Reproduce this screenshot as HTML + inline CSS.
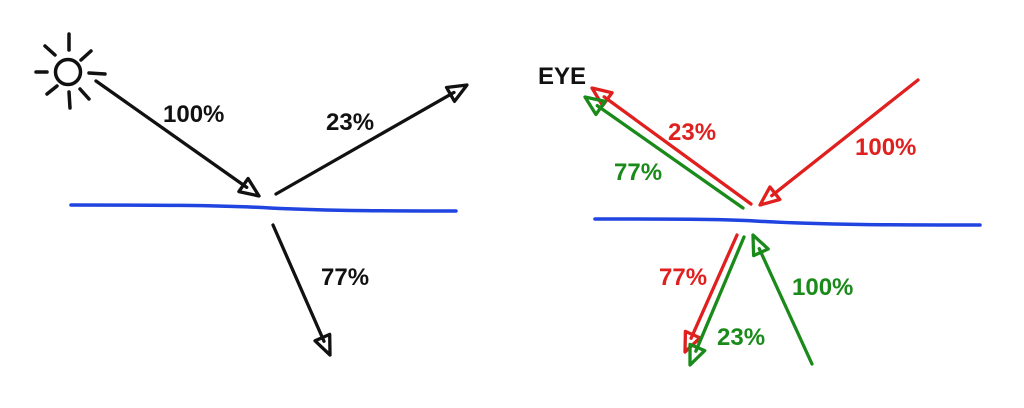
<!DOCTYPE html>
<html><head><meta charset="utf-8"><style>
html,body{margin:0;padding:0;background:#fff;}
svg{display:block;}
text{font-family:"Liberation Sans",sans-serif;font-weight:bold;font-size:24px;}
</style></head><body>
<svg id="s" width="1024" height="408" viewBox="0 0 1024 408">
  <g stroke="#111" stroke-width="3.5" stroke-linecap="round" fill="none">
    <circle cx="68" cy="72" r="12.5"/>
    <line x1="69" y1="34" x2="69" y2="50"/>
    <line x1="36" y1="72" x2="47" y2="72"/>
    <line x1="89" y1="73" x2="105" y2="74"/>
    <line x1="69" y1="92" x2="70" y2="108"/>
    <line x1="45" y1="46" x2="55" y2="55"/>
    <line x1="81" y1="60" x2="91" y2="51"/>
    <line x1="47" y1="94" x2="57" y2="86"/>
    <line x1="80" y1="89" x2="89" y2="99"/>
  </g>
  <path d="M71,205 C150,205 220,205 270,208 C330,211 400,211 456,211" stroke="#1f44e0" stroke-width="3.5" fill="none" stroke-linecap="round"/>
  <path d="M595,219 C670,219 720,219 755,221 C820,225 900,225 980,225" stroke="#1f44e0" stroke-width="3.5" fill="none" stroke-linecap="round"/>
  <g id="arrows"></g>
  <text x="538" y="84" fill="#111">EYE</text>
  <text x="163" y="122" fill="#111">100%</text>
  <text x="326" y="130" fill="#111">23%</text>
  <text x="321" y="285" fill="#111">77%</text>
  <text x="668" y="140" fill="#e0201e">23%</text>
  <text x="855" y="155" fill="#e0201e">100%</text>
  <text x="614" y="180" fill="#1a8a1a">77%</text>
  <text x="659" y="285" fill="#e0201e">77%</text>
  <text x="792" y="295" fill="#1a8a1a">100%</text>
  <text x="717" y="345" fill="#1a8a1a">23%</text>
</svg>
<script>
const arrowNames = ['incident-left','reflected-left','refracted-left','incident-red','reflected-red','reflected-green','incident-green','refracted-red','refracted-green'];
const arrowColors = ['#111','#111','#111','#e0201e','#e0201e','#1a8a1a','#1a8a1a','#e0201e','#1a8a1a'];
const arrowStarts = [[96,81],[276,194],[273,225],[918,80],[751,204],[743,208],[812,364],[737,235],[744,237]];
const arrowEnds = [[259,196],[467,85],[330,355],[760,205],[592,88],[585,97],[753,235],[685,352],[690,365]];
const g = document.getElementById('arrows');
const NS = 'http://www.w3.org/2000/svg';
for (let i = 0; i < arrowNames.length; i++) {
  const [x1,y1] = arrowStarts[i], [x2,y2] = arrowEnds[i];
  const dx = x2-x1, dy = y2-y1, L = Math.hypot(dx,dy), ux = dx/L, uy = dy/L, px = -uy, py = ux;
  const grp = document.createElementNS(NS,'g');
  
  
  const line = document.createElementNS(NS,'line');
  line.setAttribute('x1',x1); line.setAttribute('y1',y1);
  line.setAttribute('x2',x2-ux*15); line.setAttribute('y2',y2-uy*15);
  line.setAttribute('stroke',arrowColors[i]); line.setAttribute('stroke-width','3.3'); line.setAttribute('stroke-linecap','round');
  
  
  const head = document.createElementNS(NS,'path');
  const bx = x2-ux*19, by = y2-uy*19;
  head.setAttribute('d', `M${x2},${y2} L${bx+px*8},${by+py*8} L${bx-px*8},${by-py*8} Z`);
  head.setAttribute('fill','none'); head.setAttribute('stroke',arrowColors[i]); head.setAttribute('stroke-width','3.3'); head.setAttribute('stroke-linejoin','round');
  
  
  grp.appendChild(line); grp.appendChild(head); g.appendChild(grp);
}
</script>
</body></html>
